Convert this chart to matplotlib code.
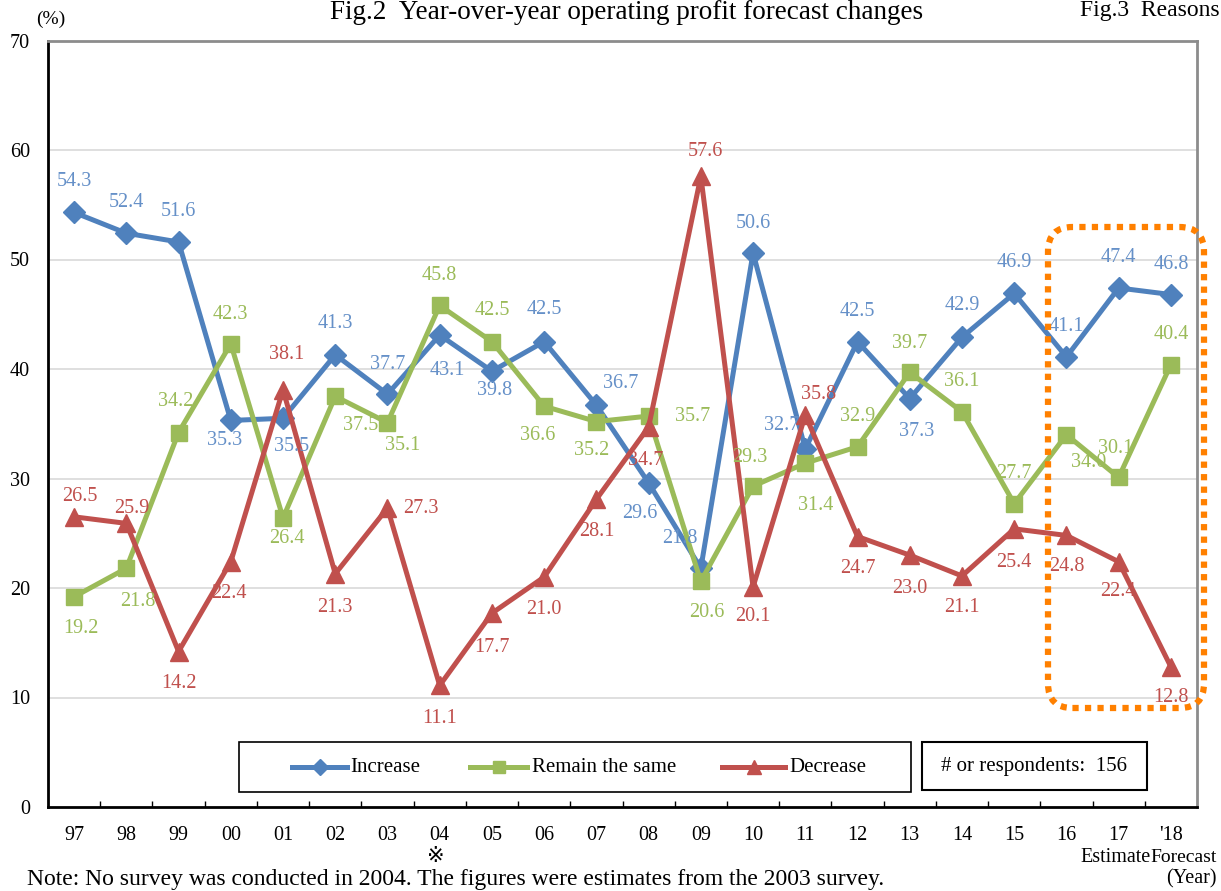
import matplotlib
matplotlib.use("Agg")
import matplotlib.pyplot as plt
from matplotlib.patches import Rectangle, FancyBboxPatch
from matplotlib.lines import Line2D

plt.rcParams["font.family"] = ["Liberation Serif", "DejaVu Sans"]

# data
years = ["97", "98", "99", "00", "01", "02", "03", "04", "05", "06", "07",
         "08", "09", "10", "11", "12", "13", "14", "15", "16", "17", "'18"]
increase = [54.3, 52.4, 51.6, 35.3, 35.5, 41.3, 37.7, 43.1, 39.8, 42.5, 36.7,
            29.6, 21.8, 50.6, 32.7, 42.5, 37.3, 42.9, 46.9, 41.1, 47.4, 46.8]
remain = [19.2, 21.8, 34.2, 42.3, 26.4, 37.5, 35.1, 45.8, 42.5, 36.6, 35.2,
          35.7, 20.6, 29.3, 31.4, 32.9, 39.7, 36.1, 27.7, 34.0, 30.1, 40.4]
decrease = [26.5, 25.9, 14.2, 22.4, 38.1, 21.3, 27.3, 11.1, 17.7, 21.0, 28.1,
            34.7, 57.6, 20.1, 35.8, 24.7, 23.0, 21.1, 25.4, 24.8, 22.4, 12.8]
respondents = 156

# label offsets (dx, dy) in pixels, dy positive = down
inc_off = [(0, -31), (0, -31), (0, -30), (-6, 20), (9, 28), (0, -31), (0, -30),
           (8, 35), (3, 19), (0, -32), (24, -22), (-9, 31), (-21, -30), (0, -29),
           (-24, -23), (0, -30), (7, 33), (0, -32), (0, -31), (0, -30), (0, -30), (0, -30)]
rem_off = [(7, 32), (11, 33), (-3, -31), (0, -29), (4, 21), (25, 29), (15, 23),
           (0, -30), (0, -31), (-6, 29), (-5, 29), (44, 0), (6, 31), (-3, -29),
           (10, 42), (0, -30), (0, -29), (0, -30), (0, -30), (22, 28), (-3, -29), (0, -30)]
dec_off = [(6, -20), (5, -15), (0, 32), (-2, 32), (4, -35), (0, 34), (33, 0),
           (0, 33), (0, 34), (0, 32), (0, 32), (-3, 33), (5, -25), (0, 30),
           (13, -20), (0, 32), (0, 33), (0, 32), (0, 34), (0, 31), (-1, 30), (0, 31)]

W, H = 1221, 891
fig = plt.figure(figsize=(W / 100, H / 100), dpi=100)
ax = fig.add_axes([48 / W, 1 - 807 / H, (1197 - 48) / W, (807 - 40.5) / H])

blue, green, red = "#4F81BD", "#9BBB59", "#C0504D"
blue_lbl = "#6590C8"
x = list(range(len(years)))

series = [
    (increase, blue, blue_lbl, "D", 11, inc_off, "Increase"),
    (remain, green, green, "s", 12, rem_off, "Remain the same"),
    (decrease, red, red, "^", 13, dec_off, "Decrease"),
]
for vals, col, lcol, mk, ms, offs, name in series:
    ax.plot(x, vals, color=col, lw=3.6, marker=mk, markersize=ms, zorder=3)
    for i, v in enumerate(vals):
        dx, dy = offs[i]
        ax.annotate(f"{v:.1f}", (i, v), xytext=(dx, -dy), textcoords="offset pixels",
                    ha="center", va="center", color=lcol, fontsize=14.5, zorder=4)

ax.set_xlim(-0.5, len(years) - 0.5)
ax.set_ylim(0, 70)
ax.set_yticks(range(0, 71, 10))
ax.yaxis.grid(True, color="#D9D9D9", lw=1.2)
ax.set_axisbelow(True)
ax.tick_params(axis="y", length=0, pad=13, labelsize=14.5)
ax.set_xticks(x)
ax.set_xticklabels(years)
ax.set_xticks([i + 0.5 for i in x[:-1]], minor=True)
ax.tick_params(axis="x", which="major", length=0, pad=14, labelsize=14.5)
ax.tick_params(axis="x", which="minor", length=4, width=1, direction="in", color="black")
for s in ["left", "bottom"]:
    ax.spines[s].set_linewidth(2)
    ax.spines[s].set_color("black")
for s in ["top", "right"]:
    ax.spines[s].set_linewidth(2)
    ax.spines[s].set_color("#8C8C8C")
# grid lines at 0 and 70 are covered by the axis frame
ax.get_ygridlines()[-1].set_visible(False)
ax.get_ygridlines()[0].set_visible(False)


def fx(px):
    return px / W


def fy(py):
    return 1 - py / H


# orange dotted frame around estimate / forecast
frame = FancyBboxPatch((fx(1048), fy(708)), fx(1204) - fx(1048), fy(227) - fy(708),
                       boxstyle="round,pad=0,rounding_size=0.02", transform=fig.transFigure,
                       fill=False, edgecolor="#FF8000", lw=4.5, linestyle=(0, (1, 1)),
                       mutation_aspect=W / H, zorder=5, clip_on=False)
fig.patches.append(frame)

# legend
fig.patches.append(Rectangle((fx(239), fy(792)), fx(911) - fx(239), fy(742) - fy(792),
                             transform=fig.transFigure, fill=False, edgecolor="black", lw=1.2))
leg_items = [(292, 347, 350), (470, 527, 532), (722, 785, 789)]
for (x0, x1, tx), (vals, col, lcol, mk, ms, offs, name) in zip(leg_items, series):
    fig.lines.append(Line2D([fx(x0), fx(x1)], [fy(767), fy(767)], transform=fig.transFigure,
                            color=col, lw=3.6))
    fig.lines.append(Line2D([fx((x0 + x1) / 2)], [fy(767)], transform=fig.transFigure,
                            color=col, marker=mk, markersize=ms * 0.75, lw=0))
    fig.text(fx(tx), fy(767), name, ha="left", va="center", fontsize=15)

fig.patches.append(Rectangle((fx(922), fy(790)), fx(1147) - fx(922), fy(742) - fy(790),
                             transform=fig.transFigure, fill=False, edgecolor="black", lw=1.5))
fig.text(fx(1034), fy(766), f"# or respondents:  {respondents}", ha="center", va="center",
         fontsize=15)

# titles and annotations
fig.text(fx(627), fy(0), "Fig.2  Year-over-year operating profit forecast changes",
         ha="center", va="top", fontsize=19.5)
fig.text(fx(1080), fy(0), "Fig.3  Reasons", ha="left", va="top", fontsize=17)
fig.text(fx(51), fy(19), "(%)", ha="center", va="center", fontsize=14)
fig.text(fx(436), fy(856), "※", ha="center", va="center", fontsize=15,
         family=["DejaVu Sans", "Noto Sans CJK JP"])
fig.text(fx(1116), fy(857), "Estimate", ha="center", va="center", fontsize=14.5)
fig.text(fx(1217), fy(857), "Forecast", ha="right", va="center", fontsize=14)
fig.text(fx(1217), fy(879), "(Year)", ha="right", va="center", fontsize=14.5)
fig.text(fx(27), fy(879), "Note: No survey was conducted in 2004. The figures were estimates"
         " from the 2003 survey.", ha="left", va="center", fontsize=17)

fig.savefig("out.png", dpi=100)
